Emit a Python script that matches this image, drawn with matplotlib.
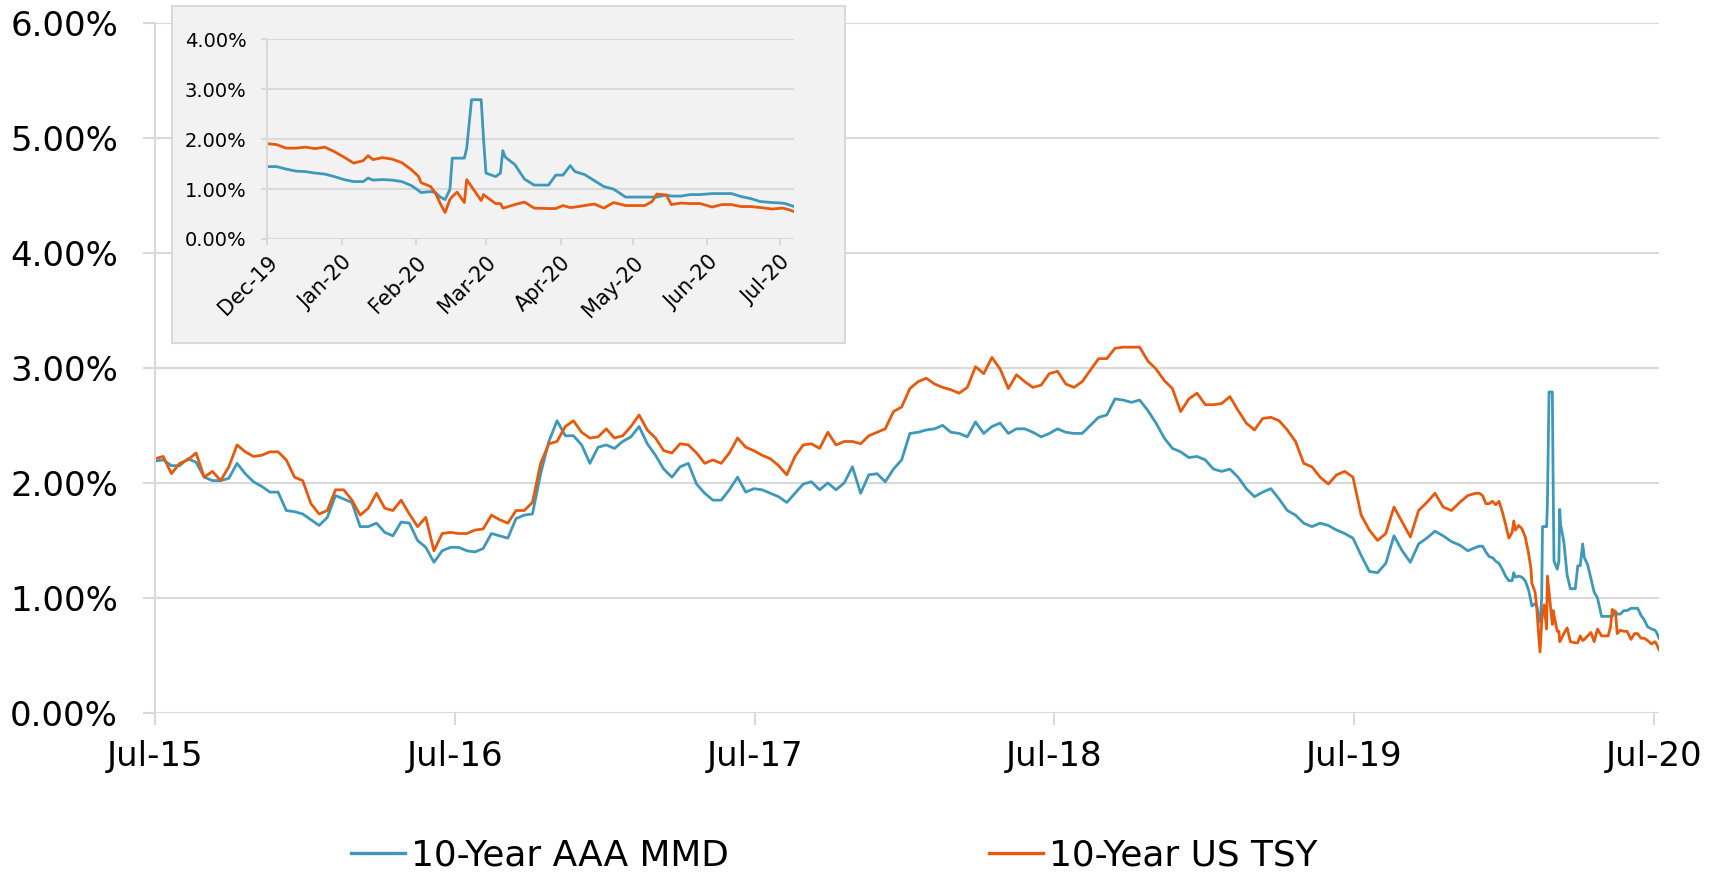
import matplotlib
matplotlib.use("Agg")
import matplotlib.pyplot as plt
import matplotlib.dates as mdates
from matplotlib.ticker import FuncFormatter, MultipleLocator
from matplotlib.lines import Line2D
import pandas as pd

# ---------------- data (percent) ----------------
# main history, sampled every 10 days from 1 Jul 2015 to 27 Nov 2019
mmd_hist = [2.19, 2.20, 2.15, 2.15, 2.21, 2.18, 2.05, 2.02, 2.02, 2.04,
            2.17, 2.08, 2.01, 1.97, 1.92, 1.92, 1.76, 1.75, 1.73, 1.68,
            1.63, 1.70, 1.89, 1.86, 1.83, 1.62, 1.62, 1.65, 1.57, 1.54,
            1.66, 1.65, 1.50, 1.44, 1.31, 1.41, 1.44, 1.44, 1.41, 1.40,
            1.43, 1.56, 1.54, 1.52, 1.69, 1.72, 1.73, 2.08, 2.36, 2.54,
            2.41, 2.41, 2.33, 2.17, 2.31, 2.33, 2.30, 2.36, 2.40, 2.49,
            2.34, 2.24, 2.12, 2.05, 2.14, 2.17, 1.99, 1.91, 1.85, 1.85,
            1.94, 2.05, 1.92, 1.95, 1.94, 1.91, 1.88, 1.83, 1.91, 1.99,
            2.01, 1.94, 2.00, 1.94, 2.00, 2.14, 1.91, 2.07, 2.08, 2.01,
            2.12, 2.20, 2.43, 2.44, 2.46, 2.47, 2.50, 2.44, 2.43, 2.40,
            2.53, 2.43, 2.49, 2.52, 2.43, 2.47, 2.47, 2.44, 2.40, 2.43,
            2.47, 2.44, 2.43, 2.43, 2.50, 2.57, 2.59, 2.73, 2.72, 2.70,
            2.72, 2.63, 2.52, 2.39, 2.30, 2.27, 2.22, 2.23, 2.20, 2.12,
            2.10, 2.12, 2.05, 1.95, 1.88, 1.92, 1.95, 1.86, 1.76, 1.72,
            1.65, 1.62, 1.65, 1.63, 1.59, 1.56, 1.52, 1.37, 1.23, 1.22,
            1.30, 1.54, 1.41, 1.31, 1.47, 1.52, 1.58, 1.54, 1.49, 1.46,
            1.41, 1.44]
tsy_hist = [2.21, 2.23, 2.08, 2.17, 2.20, 2.26, 2.05, 2.10, 2.02, 2.14,
            2.33, 2.27, 2.23, 2.24, 2.27, 2.27, 2.20, 2.05, 2.02, 1.82,
            1.73, 1.76, 1.94, 1.94, 1.85, 1.72, 1.78, 1.91, 1.78, 1.76,
            1.85, 1.73, 1.62, 1.70, 1.41, 1.56, 1.57, 1.56, 1.56, 1.59,
            1.60, 1.72, 1.68, 1.65, 1.76, 1.76, 1.83, 2.17, 2.34, 2.36,
            2.49, 2.54, 2.44, 2.39, 2.40, 2.47, 2.39, 2.41, 2.49, 2.59,
            2.46, 2.39, 2.28, 2.26, 2.34, 2.33, 2.26, 2.17, 2.20, 2.17,
            2.26, 2.39, 2.31, 2.28, 2.24, 2.21, 2.15, 2.07, 2.23, 2.33,
            2.34, 2.30, 2.44, 2.33, 2.36, 2.36, 2.34, 2.41, 2.44, 2.47,
            2.62, 2.66, 2.82, 2.88, 2.91, 2.86, 2.83, 2.81, 2.78, 2.83,
            3.01, 2.95, 3.09, 2.99, 2.82, 2.94, 2.88, 2.83, 2.85, 2.95,
            2.97, 2.86, 2.83, 2.88, 2.98, 3.08, 3.08, 3.17, 3.18, 3.18,
            3.18, 3.06, 2.99, 2.89, 2.82, 2.62, 2.73, 2.78, 2.68, 2.68,
            2.69, 2.75, 2.63, 2.52, 2.46, 2.56, 2.57, 2.54, 2.46, 2.36,
            2.17, 2.14, 2.05, 1.99, 2.07, 2.10, 2.05, 1.72, 1.59, 1.50,
            1.56, 1.79, 1.66, 1.53, 1.76, 1.83, 1.91, 1.79, 1.76, 1.83,
            1.89, 1.91]

# recent period (Dec 2019 - Jul 2020), shown in the inset and at the end of the main chart
recent_dates = ["2019-12-01", "2019-12-05", "2019-12-09", "2019-12-13", "2019-12-17",
                "2019-12-21", "2019-12-25", "2019-12-29", "2020-01-02", "2020-01-06",
                "2020-01-10", "2020-01-12", "2020-01-14", "2020-01-18", "2020-01-22",
                "2020-01-26", "2020-01-30", "2020-02-02", "2020-02-03", "2020-02-07",
                "2020-02-09", "2020-02-11", "2020-02-13", "2020-02-15", "2020-02-16",
                "2020-02-18", "2020-02-21", "2020-02-22", "2020-02-24", "2020-02-28",
                "2020-02-29", "2020-03-01", "2020-03-05", "2020-03-07", "2020-03-08",
                "2020-03-09", "2020-03-13", "2020-03-17", "2020-03-21", "2020-03-27",
                "2020-03-30", "2020-04-02", "2020-04-05", "2020-04-07", "2020-04-11",
                "2020-04-15", "2020-04-19", "2020-04-23", "2020-04-28", "2020-05-02",
                "2020-05-06", "2020-05-09", "2020-05-11", "2020-05-15", "2020-05-17",
                "2020-05-21", "2020-05-25", "2020-05-29", "2020-06-03", "2020-06-07",
                "2020-06-11", "2020-06-15", "2020-06-19", "2020-06-23", "2020-06-28",
                "2020-07-02", "2020-07-04", "2020-07-07"]
mmd_recent = [1.45, 1.45, 1.40, 1.36, 1.35, 1.32, 1.30, 1.25, 1.19, 1.15,
              1.15, 1.22, 1.18, 1.19, 1.18, 1.15, 1.07, 0.97, 0.93, 0.95,
              0.93, 0.84, 0.79, 0.99, 1.62, 1.62, 1.62, 1.82, 2.79, 2.79,
              1.99, 1.32, 1.25, 1.32, 1.77, 1.64, 1.49, 1.20, 1.08, 1.08,
              1.28, 1.28, 1.47, 1.35, 1.29, 1.17, 1.05, 1.00, 0.84, 0.84,
              0.84, 0.84, 0.84, 0.88, 0.86, 0.86, 0.89, 0.89, 0.91, 0.91,
              0.91, 0.85, 0.81, 0.75, 0.73, 0.72, 0.70, 0.65]
tsy_recent = [1.91, 1.89, 1.82, 1.82, 1.84, 1.81, 1.84, 1.75, 1.64, 1.52,
              1.57, 1.67, 1.59, 1.63, 1.60, 1.53, 1.39, 1.25, 1.13, 1.05,
              0.92, 0.71, 0.53, 0.79, 0.85, 0.94, 0.73, 1.19, 1.05, 0.77,
              0.89, 0.85, 0.71, 0.71, 0.62, 0.63, 0.69, 0.74, 0.62, 0.61,
              0.61, 0.67, 0.63, 0.64, 0.67, 0.70, 0.62, 0.73, 0.67, 0.67,
              0.67, 0.75, 0.90, 0.88, 0.69, 0.72, 0.71, 0.71, 0.64, 0.69,
              0.69, 0.65, 0.65, 0.63, 0.60, 0.62, 0.60, 0.55]

series_labels = ["10-Year AAA MMD", "10-Year US TSY"]
main_tick_dates = ["2015-07-01", "2016-07-01", "2017-07-01", "2018-07-01", "2019-07-01", "2020-07-01"]
inset_tick_dates = ["2019-12-01", "2020-01-01", "2020-02-01", "2020-03-01", "2020-04-01",
                    "2020-05-01", "2020-06-01", "2020-07-01"]

# ---------------- assemble ----------------
hist_dates = pd.date_range("2015-07-01", periods=len(mmd_hist), freq="10D")
rec_dates = pd.to_datetime(recent_dates)
all_dates = hist_dates.append(rec_dates)
mmd_all = mmd_hist + mmd_recent
tsy_all = tsy_hist + tsy_recent

BLUE = "#3E98B9"
ORANGE = "#E8590C"
GRID = "#D9D9D9"
W, H = 1728, 875

pct2 = FuncFormatter(lambda v, p: f"{v:.2f}%")

fig = plt.figure(figsize=(W / 100, H / 100), dpi=100)

# ---------------- main axes ----------------
ax = fig.add_axes([155 / W, 1 - 713 / H, (1659 - 155) / W, (713 - 22.7) / H])
ax.plot(all_dates, mmd_all, color=BLUE, lw=2.0, solid_joinstyle="round")
ax.plot(all_dates, tsy_all, color=ORANGE, lw=2.0, solid_joinstyle="round")
ax.set_ylim(0, 6)
ax.set_xlim(pd.Timestamp("2015-07-01"), rec_dates[-1])
ax.yaxis.set_major_locator(MultipleLocator(1))
ax.yaxis.set_major_formatter(pct2)
ax.set_xticks(pd.to_datetime(main_tick_dates))
ax.xaxis.set_major_formatter(mdates.DateFormatter("%b-%y"))
ax.grid(axis="y", color=GRID, lw=1.5)
ax.set_axisbelow(True)
for s in ["top", "right", "bottom"]:
    ax.spines[s].set_visible(False)
ax.spines["left"].set_color(GRID)
ax.spines["left"].set_linewidth(1.5)
ax.tick_params(axis="y", length=8.6, width=1.5, color=GRID, pad=18, labelsize=24.5)
ax.tick_params(axis="x", length=8.6, width=1.5, color=GRID, pad=11, labelsize=24.5)

# ---------------- inset ----------------
box = fig.add_axes([172 / W, 1 - 343 / H, (845 - 172) / W, (343 - 6) / H])
box.set_facecolor("#F2F2F2")
box.set_xticks([])
box.set_yticks([])
for s in box.spines.values():
    s.set_color(GRID)
    s.set_linewidth(1.5)

ax2 = fig.add_axes([267 / W, 1 - 239 / H, (794 - 267) / W, (239 - 39.3) / H])
ax2.set_facecolor("none")
ax2.plot(rec_dates, mmd_recent, color=BLUE, lw=2.0, solid_joinstyle="round")
ax2.plot(rec_dates, tsy_recent, color=ORANGE, lw=2.0, solid_joinstyle="round")
ax2.set_ylim(0, 4)
ax2.set_xlim(rec_dates[0], rec_dates[-1])
ax2.yaxis.set_major_locator(MultipleLocator(1))
ax2.yaxis.set_major_formatter(pct2)
ax2.set_xticks(pd.to_datetime(inset_tick_dates))
ax2.xaxis.set_major_formatter(mdates.DateFormatter("%b-%y"))
ax2.grid(axis="y", color=GRID, lw=1.5)
ax2.set_axisbelow(True)
for s in ["top", "right", "bottom"]:
    ax2.spines[s].set_visible(False)
ax2.spines["left"].set_color(GRID)
ax2.spines["left"].set_linewidth(1.5)
ax2.tick_params(axis="y", length=4.6, width=1.5, color=GRID, pad=10, labelsize=14)
ax2.tick_params(axis="x", length=4.6, width=1.5, color=GRID, pad=5, labelsize=15)
for lab in ax2.get_xticklabels():
    lab.set_rotation(45)
    lab.set_ha("right")
    lab.set_rotation_mode("anchor")

# ---------------- legend ----------------
handles = [Line2D([], [], color=BLUE, lw=2.4), Line2D([], [], color=ORANGE, lw=2.4)]
fig.legend(handles, series_labels, loc="center", bbox_to_anchor=(834.5 / W, 1 - 856 / H),
           ncol=2, frameon=False, fontsize=25.8, handlelength=1.5, handletextpad=0.17,
           columnspacing=7.26)

fig.savefig("out.png", dpi=100)
